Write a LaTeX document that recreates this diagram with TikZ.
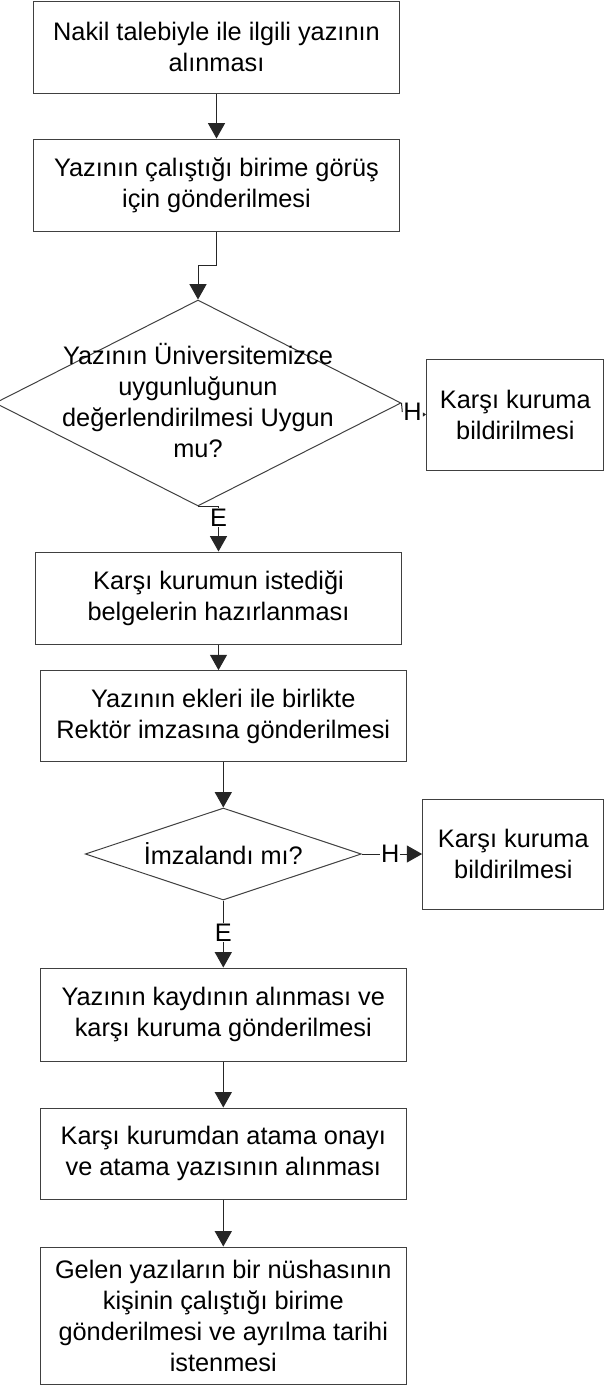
\documentclass[tikz,border=0pt]{standalone}
\usepackage{fontspec}
\setmainfont{Liberation Sans}
\usetikzlibrary{arrows.meta,shapes.geometric}
\newcommand{\flowfont}{\fontsize{19}{23.25}\selectfont}
\begin{document}
\begin{tikzpicture}[x=0.75pt,y=-0.75pt,
  box/.style={rectangle, draw=black!75, line width=0.75pt, align=center, inner sep=0pt, font=\flowfont, minimum width=274.2pt},
  dia/.style={diamond, draw=black!75, line width=0.75pt, inner sep=0pt, aspect=1},
  txt/.style={align=center, inner sep=0pt, font=\flowfont},
  lbl/.style={inner sep=0.6pt, font=\flowfont},
  lin/.style={draw=black!85, line width=0.75pt},
  arr/.style={lin, -{Triangle[width=12.75pt,length=11.5pt]}},
  tinyarr/.style={lin, -{Triangle[width=3pt,length=2.5pt]}}]
\useasboundingbox (0,0) rectangle (605,1385);
% nodes
\node[box, minimum height=69pt] (b1) at (216.5,47) {Nakil talebiyle ile ilgili yazının\\alınması};
\node[box, minimum height=69pt] (b2) at (216.5,185) {Yazının çalıştığı birime görüş\\için gönderilmesi};
\node[dia, minimum width=304.5pt, minimum height=154.5pt] (d1) at (198,403) {};
\node[txt] (d1t) at (198,401) {Yazının Üniversitemizce\\uygunluğunun\\değerlendirilmesi Uygun\\mu?};
\node[box, minimum width=133pt, minimum height=83.25pt] (k1) at (515.3,414.5) {Karşı kuruma\\bildirilmesi};
\node[lbl] (h1) at (412.5,412) {H};
\node[box, minimum height=69pt] (b3) at (218.5,598) {Karşı kurumun istediği\\belgelerin hazırlanması};
\node[box, minimum height=68.5pt] (b4) at (223.3,716.3) {Yazının ekleri ile birlikte\\Rektör imzasına gönderilmesi};
\node[dia, minimum width=207pt, minimum height=69pt] (d2) at (223.3,854) {};
\node[txt] (d2t) at (223.3,854) {İmzalandı mı?};
\node[box, minimum width=136pt, minimum height=82.5pt] (k2) at (513.3,854) {Karşı kuruma\\bildirilmesi};
\node[box, minimum height=69.75pt] (b5) at (223.3,1014.5) {Yazının kaydının alınması ve\\karşı kuruma gönderilmesi};
\node[box, minimum height=68.25pt] (b6) at (223.3,1153.5) {Karşı kurumdan atama onayı\\ve atama yazısının alınması};
\node[box, minimum height=102.75pt] (b7) at (223.3,1315.5) {Gelen yazıların bir nüshasının\\kişinin çalıştığı birime\\gönderilmesi ve ayrılma tarihi\\istenmesi};
% connectors
\draw[arr] (b1.south) -- (b2.north);
\draw[arr] (b2.south) -- ++(0,34) -| (d1.north);
\draw[lin] (d1.east) -- (h1.west);
\draw[tinyarr] (h1.east |- k1.west) -- (k1.west);
\draw[arr] (d1.south) -| node[lbl, fill=white, pos=0.62] {E} (b3.north);
\draw[arr] (b3.south) -- (b3.south |- b4.north);
\draw[arr] (b4.south) -- (d2.north);
\draw[arr] (d2.east) -- node[lbl, fill=white, pos=0.47] {H} (k2.west);
\draw[arr] (d2.south) -- node[lbl, fill=white, pos=0.48] {E} (b5.north);
\draw[arr] (b5.south) -- (b6.north);
\draw[arr] (b6.south) -- (b7.north);
\end{tikzpicture}
\end{document}
